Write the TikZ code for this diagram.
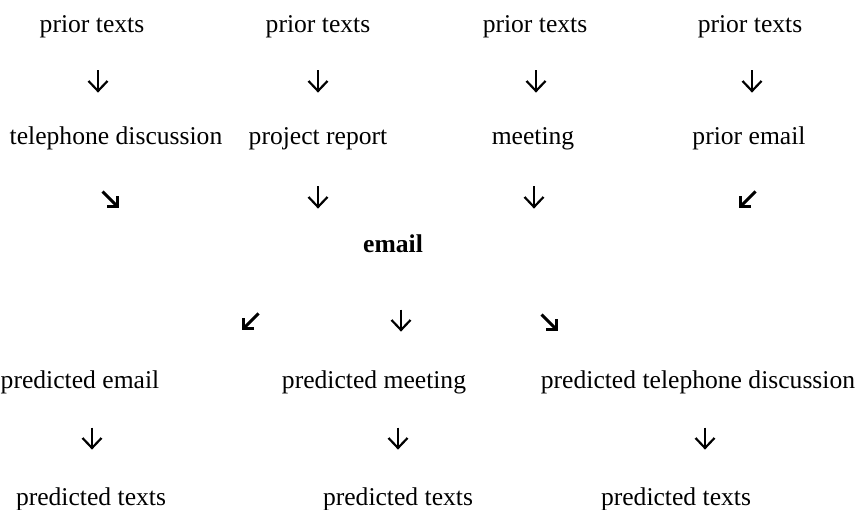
\documentclass[tikz,border=0pt]{standalone}
\usepackage{fontspec}
\setmainfont{Liberation Serif}
\begin{document}
\begin{tikzpicture}[x=1pt,y=-1pt,
  lbl/.style={inner sep=0pt,anchor=base,font=\fontsize{25.6}{30}\selectfont},
  darr/.pic={\draw[line width=2.2pt] (0,-10.5) -- (0,10);
             \draw[line width=2.2pt,line join=miter] (-9.5,0) -- (0,10) -- (9.5,0);},
  searr/.pic={\draw[line width=3pt] (-7.5,-7.5) -- (6.5,6.5);
             \draw[line width=3pt,line join=miter] (-3,7.5) -- (7.5,7.5) -- (7.5,-3);},
  swarr/.pic={\draw[line width=3pt] (7.5,-7.5) -- (-6.5,6.5);
             \draw[line width=3pt,line join=miter] (3,7.5) -- (-7.5,7.5) -- (-7.5,-3);}]
\useasboundingbox (0,0) rectangle (858,510);
% row 1
\node[lbl] (p1) at (92,33) {prior texts};
\node[lbl] (p2) at (318,33) {prior texts};
\node[lbl] (p3) at (535,33) {prior texts};
\node[lbl] (p4) at (750,33) {prior texts};
\pic at (98,81) {darr};
\pic at (318,81) {darr};
\pic at (536,81) {darr};
\pic at (752,81) {darr};
% row 2
\node[lbl] (t1) at (116,145) {telephone discussion};
\node[lbl] (t2) at (318,145) {project report};
\node[lbl] (t3) at (533,145) {meeting};
\node[lbl] (t4) at (749,145) {prior email};
\pic at (110,199) {searr};
\pic at (318,197) {darr};
\pic at (534,197) {darr};
\pic at (748,199) {swarr};
% email
\node[lbl,font=\fontsize{25.6}{30}\selectfont\bfseries] (em) at (393,253) {email};
\pic at (251,321) {swarr};
\pic at (401,320) {darr};
\pic at (549,322) {searr};
% predictions
\node[lbl] (q1) at (80,388) {predicted email};
\node[lbl] (q2) at (374,388) {predicted meeting};
\node[lbl] (q3) at (698,388) {predicted telephone discussion};
\pic at (92,438) {darr};
\pic at (398,438) {darr};
\pic at (705,438) {darr};
\node[lbl] (r1) at (91,505) {predicted texts};
\node[lbl] (r2) at (398,505) {predicted texts};
\node[lbl] (r3) at (676,505) {predicted texts};
\end{tikzpicture}
\end{document}
